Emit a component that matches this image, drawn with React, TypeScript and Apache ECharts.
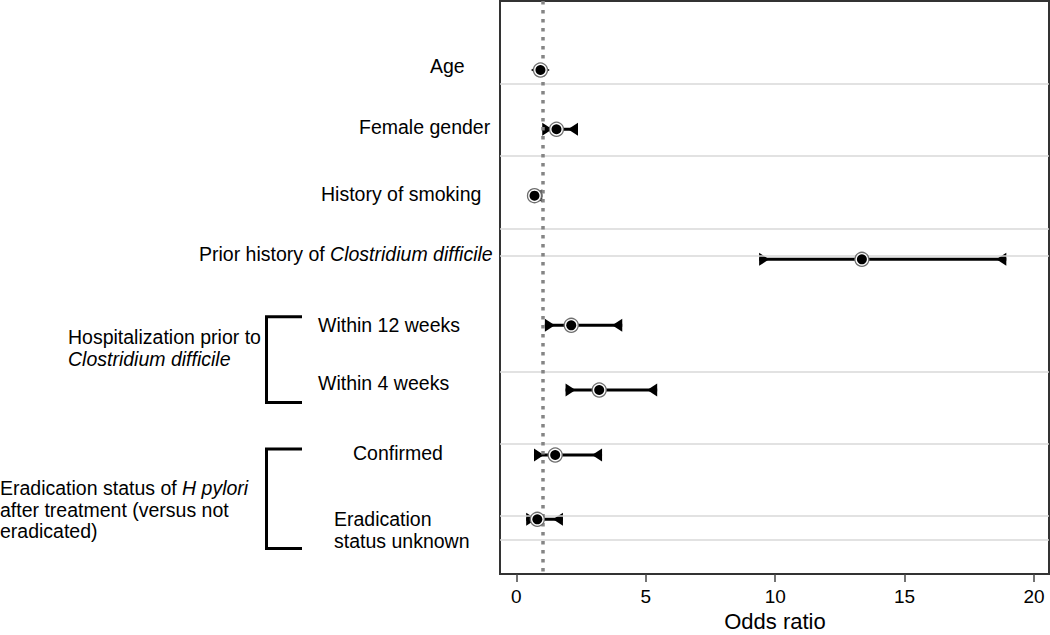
import React, { useEffect, useRef } from "react";
import * as echarts from "echarts";

// ---- data ----
const rowLabels = [
  "Age",
  "Female gender",
  "History of smoking",
  "Prior history of Clostridium difficile",
  "Within 12 weeks",
  "Within 4 weeks",
  "Confirmed",
  "Eradication status unknown",
];
const oddsRatio = [0.93, 1.55, 0.7, 13.35, 2.12, 3.2, 1.5, 0.81];
const ciLower = [0.9, 1.0, 0.55, 9.38, 1.1, 1.9, 0.68, 0.38];
const ciUpper = [0.95, 2.38, 1.0, 18.93, 4.09, 5.44, 3.31, 1.8];
// vertical position of each row (y-axis units, 0 = top, 9 = bottom)
const rowPos = [1.084, 2.015, 3.058, 4.057, 5.094, 6.11, 7.131, 8.141];
// light horizontal rules drawn across the plot (y-axis units)
const rulePos = [1.299, 2.434, 3.57, 4.005, 5.822, 6.958, 8.089, 8.455];
const xTickInterval = 5;
const xTickMin = 0;
const xTickMax = 20;
const referenceOR = 1;
const xTitle = "Odds ratio";

const FONT = "'Liberation Sans', Helvetica, Arial, sans-serif";
const FS = 19.5;

const TRI_RIGHT = "path://M0,0L10,6.5L0,13Z";
const TRI_LEFT = "path://M10,0L0,6.5L10,13Z";

export default function App() {
  const ref = useRef<HTMLDivElement>(null);

  useEffect(() => {
    if (!ref.current) return;
    const chart = echarts.init(ref.current, null, { renderer: "svg" });

    const ciData = rowPos.map((y, i) => [ciLower[i], ciUpper[i], y]);
    const lowData = rowPos.map((y, i) => [ciLower[i], y]);
    const highData = rowPos.map((y, i) => [ciUpper[i], y]);
    const pointData = rowPos.map((y, i) => [oddsRatio[i], y]);

    const txt = (text: string, x: number, y: number, extra: any = {}) => ({
      type: "text",
      x,
      y,
      style: {
        text,
        fill: "#000",
        fontSize: FS,
        fontFamily: FONT,
        verticalAlign: "middle",
        align: "left",
        ...extra,
      },
    });
    const rich = {
      i: { fontStyle: "italic", fontSize: FS, fontFamily: FONT, fill: "#000" },
    };

    const option: any = {
      animation: false,
      grid: [
        {
          left: 500,
          right: 1,
          top: 1,
          bottom: 61,
          show: true,
          borderColor: "#333",
          borderWidth: 2,
          backgroundColor: "transparent",
          outerBoundsMode: "none",
          containLabel: false,
        },
        {
          left: 516.4,
          right: 16,
          top: 1,
          bottom: 61,
          show: false,
          outerBoundsMode: "none",
          containLabel: false,
        },
      ],
      xAxis: [
        {
          gridIndex: 0,
          type: "value",
          min: -0.633,
          max: 20.58,
          axisLine: { show: false },
          axisTick: { show: false },
          axisLabel: { show: false },
          splitLine: { show: false },
        },
        {
          gridIndex: 1,
          type: "value",
          min: xTickMin,
          max: xTickMax,
          interval: xTickInterval,
          axisLine: { show: false },
          axisTick: {
            show: true,
            length: 8,
            lineStyle: { color: "#444", width: 1.5 },
          },
          axisLabel: {
            fontSize: 19,
            lineHeight: 19,
            fontFamily: FONT,
            color: "#000",
            margin: 13,
          },
          splitLine: { show: false },
        },
      ],
      yAxis: [
        {
          gridIndex: 0,
          type: "value",
          min: 0,
          max: 9,
          inverse: true,
          show: false,
          splitLine: { show: false },
        },
        {
          gridIndex: 1,
          type: "value",
          min: 0,
          max: 9,
          show: false,
          splitLine: { show: false },
        },
      ],
      series: [
        {
          name: "rules",
          type: "scatter",
          data: [],
          z: 1,
          markLine: {
            silent: true,
            symbol: "none",
            label: { show: false },
            lineStyle: { color: "#d8d8d8", width: 1.6, type: "solid" },
            data: rulePos.map((v) => ({ yAxis: v })),
          },
        },
        {
          name: "reference",
          type: "scatter",
          data: [],
          z: 2,
          markLine: {
            silent: true,
            symbol: "none",
            label: { show: false },
            lineStyle: {
              color: "#858585",
              width: 3.5,
              type: [3.5, 5.5],
              cap: "butt",
            },
            data: [{ xAxis: referenceOR }],
          },
        },
        {
          name: "ci",
          type: "custom",
          z: 3,
          data: ciData,
          encode: { x: [0, 1], y: 2 },
          renderItem: (params: any, api: any) => {
            const y = api.value(2);
            const p1 = api.coord([api.value(0), y]);
            const p2 = api.coord([api.value(1), y]);
            return {
              type: "line",
              shape: { x1: p1[0], y1: p1[1], x2: p2[0], y2: p2[1] },
              style: { stroke: "#000", lineWidth: 3 },
            };
          },
        },
        {
          name: "lower",
          type: "scatter",
          z: 4,
          data: lowData,
          symbol: TRI_RIGHT,
          symbolKeepAspect: false,
          symbolSize: [10, 13],
          symbolOffset: [5, 0],
          itemStyle: { color: "#000", opacity: 1 },
        },
        {
          name: "upper",
          type: "scatter",
          z: 4,
          data: highData,
          symbol: TRI_LEFT,
          symbolKeepAspect: false,
          symbolSize: [10, 13],
          symbolOffset: [-5, 0],
          itemStyle: { color: "#000", opacity: 1 },
        },
        {
          name: "ring",
          type: "scatter",
          z: 5,
          data: pointData,
          symbol: "circle",
          symbolSize: 14,
          itemStyle: { color: "#fff", borderColor: "#6e6e6e", borderWidth: 1.3, opacity: 1 },
        },
        {
          name: "point",
          type: "scatter",
          z: 6,
          data: pointData,
          symbol: "circle",
          symbolSize: 10,
          itemStyle: { color: "#000", opacity: 1 },
        },
      ],
      graphic: [
        txt(xTitle, 775, 621, { align: "center", fontSize: 22 }),
        txt(rowLabels[0], 430, 66),
        txt(rowLabels[1], 359, 127),
        txt(rowLabels[2], 321, 194),
        txt("Prior history of {i|Clostridium difficile}", 199, 254, { rich }),
        txt(rowLabels[4], 318, 325),
        txt(rowLabels[5], 318, 383),
        txt(rowLabels[6], 353, 453),
        txt("Eradication", 334, 519),
        txt("status unknown", 334, 541),
        txt("Hospitalization prior to", 68, 337),
        txt("{i|Clostridium difficile}", 68, 359, { rich }),
        txt("Eradication status of {i|H pylori}", 0, 488, { rich }),
        txt("after treatment (versus not", 0, 509.5),
        txt("eradicated)", 0, 531),
        {
          type: "polyline",
          shape: {
            points: [
              [302, 316.7],
              [266.5, 316.7],
              [266.5, 402.5],
              [302, 402.5],
            ],
          },
          style: { stroke: "#000", lineWidth: 3, fill: null },
        },
        {
          type: "polyline",
          shape: {
            points: [
              [302, 449],
              [266.5, 449],
              [266.5, 548.5],
              [302, 548.5],
            ],
          },
          style: { stroke: "#000", lineWidth: 3, fill: null },
        },
      ],
    };

    chart.setOption(option);
    return () => chart.dispose();
  }, []);

  return (
    <div
      ref={ref}
      style={{ position: "absolute", left: 0, top: 0, width: 1050, height: 635, background: "#fff" }}
    />
  );
}
